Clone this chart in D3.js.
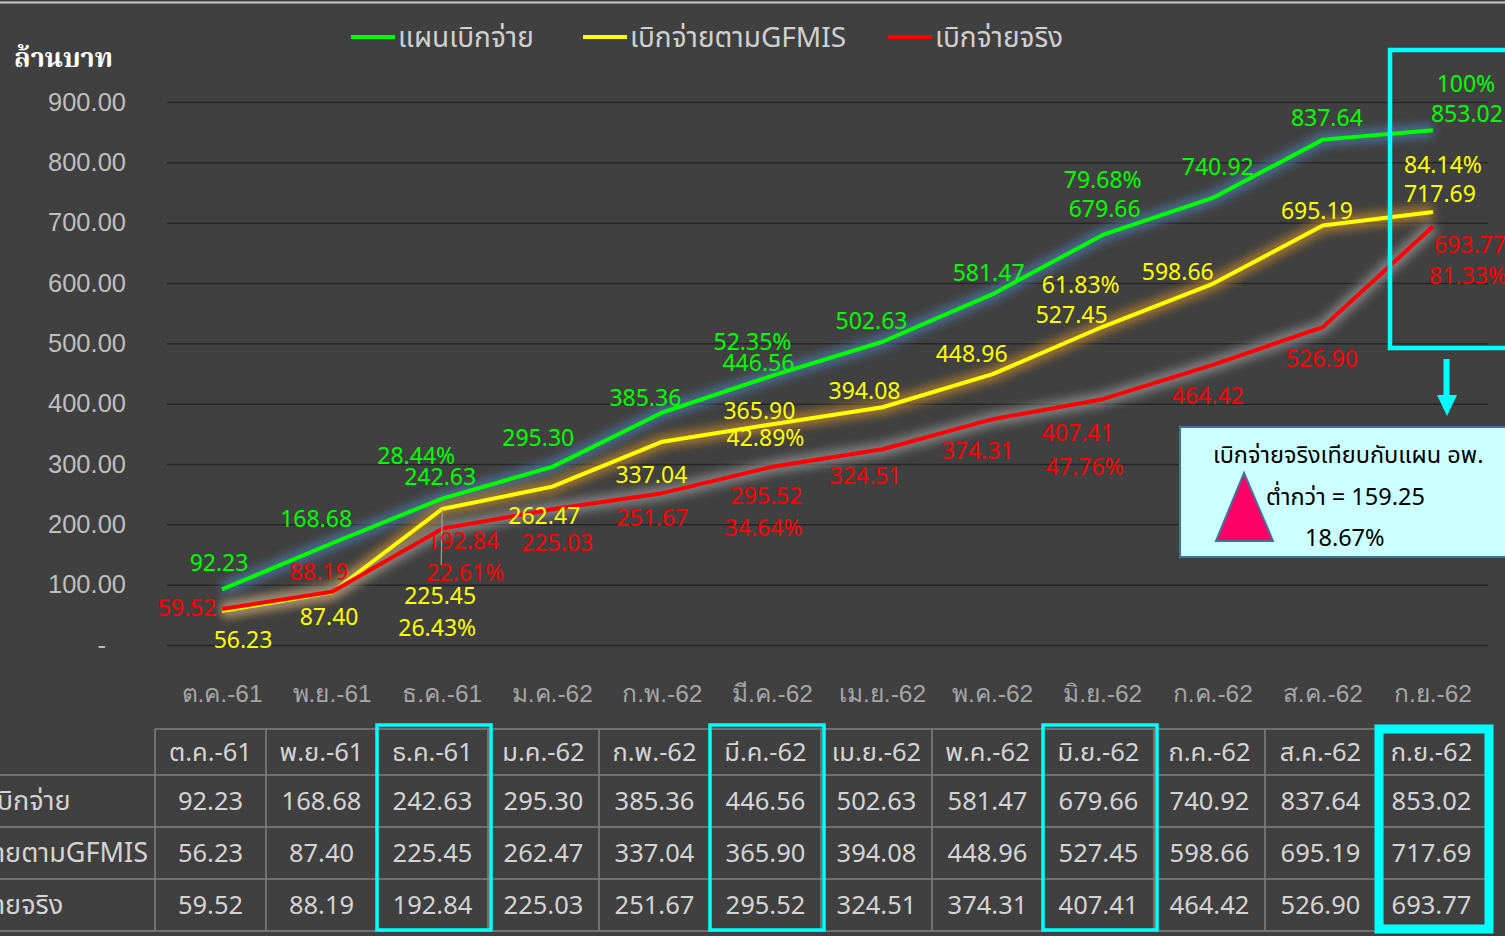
<!DOCTYPE html>
<html lang="th">
<head>
<meta charset="utf-8">
<title>แผนเบิกจ่าย อพ.</title>
<script src="https://cdn.jsdelivr.net/npm/d3@7"></script>
<style>
  html, body { margin: 0; padding: 0; background: #fff; }
  svg { display: block; font-family: Tahoma, "Noto Sans Thai", "Noto Sans", "DejaVu Sans", sans-serif; }
</style>
</head>
<body>
<svg id="chart" width="1505" height="936"></svg>
<script>
/* ---------- data ---------- */
const months = ["ต.ค.-61", "พ.ย.-61", "ธ.ค.-61", "ม.ค.-62", "ก.พ.-62", "มี.ค.-62",
  "เม.ย.-62", "พ.ค.-62", "มิ.ย.-62", "ก.ค.-62", "ส.ค.-62", "ก.ย.-62"];
const planValues   = [92.23, 168.68, 242.63, 295.30, 385.36, 446.56, 502.63, 581.47, 679.66, 740.92, 837.64, 853.02];
const gfmisValues  = [56.23, 87.40, 225.45, 262.47, 337.04, 365.90, 394.08, 448.96, 527.45, 598.66, 695.19, 717.69];
const actualValues = [59.52, 88.19, 192.84, 225.03, 251.67, 295.52, 324.51, 374.31, 407.41, 464.42, 526.90, 693.77];
const seriesNames  = ["แผนเบิกจ่าย", "เบิกจ่ายตามGFMIS", "เบิกจ่ายจริง"];
const yTicks = [0, 100, 200, 300, 400, 500, 600, 700, 800, 900];

// quarter-end percentage labels (share of full-year plan)
const pctMonths = ["ธ.ค.-61", "มี.ค.-62", "มิ.ย.-62", "ก.ย.-62"];
const planPct   = ["28.44%", "52.35%", "79.68%", "100%"];
const gfmisPct  = ["26.43%", "42.89%", "61.83%", "84.14%"];
const actualPct = ["22.61%", "34.64%", "47.76%", "81.33%"];

// table columns outlined in cyan
const highlightMonths = ["ธ.ค.-61", "มี.ค.-62", "มิ.ย.-62", "ก.ย.-62"];

const noteTitle = "เบิกจ่ายจริงเทียบกับแผน อพ.";
const gapLabel = "ต่ำกว่า";
const gapValue = 159.25;
const gapPct = "18.67%";

/* ---------- layout ---------- */
const W = 1505, H = 936;
const plot = { left: 167, right: 1488, top: 102, bottom: 645 };

const series = [
  { name: seriesNames[0], values: planValues,   pct: planPct,   color: "#00ff00", glow: "#4d7cb0",
    off: [[-3,-26],[-16,-24],[-2,-22],[-14,-29],[-17,-15],[-14,-13],[-11,-21],[-4,-21],[2,-26],[5,-31],[4,-22],[34,-16]],
    pctOff: [[-26,-43],[-20,-34],[0,-55],[33,-46]] },
  { name: seriesNames[1], values: gfmisValues,  pct: gfmisPct,  color: "#ffff00", glow: "#c98a2a",
    off: [[21,29],[-3,25],[-2,87],[-8,29],[-11,33],[-13,-13],[-18,-16],[-21,-20],[-31,-12],[-35,-12],[-6,-15],[7,-18]],
    pctOff: [[-5,119],[-7,14],[-22,-42],[10,-47]] },
  { name: seriesNames[2], values: actualValues, pct: actualPct, color: "#ff0000", glow: "#9a9a9a",
    off: [[-35,-1],[-13,-20],[21,12],[5,34],[-10,25],[-6,29],[-17,27],[-15,32],[-25,34],[-5,31],[-1,32],[37,19]],
    pctOff: [[23,44],[-9,61],[-18,68],[35,50]] }
];

const svg = d3.select("#chart");

// background
svg.append("rect").attr("x", 0).attr("y", 0).attr("width", W).attr("height", H).attr("fill", "#404040");
svg.append("line").attr("x1", 0).attr("x2", W).attr("y1", 2.5).attr("y2", 2.5)
  .attr("stroke", "#c8c8c8").attr("stroke-width", 2);

const defs = svg.append("defs");
const glow = defs.append("filter").attr("id", "glow")
  .attr("x", "-20%").attr("y", "-20%").attr("width", "140%").attr("height", "140%");
glow.append("feGaussianBlur").attr("stdDeviation", 5);

const x = d3.scaleBand().domain(months).range([plot.left, plot.right]);
const cx = m => x(m) + x.bandwidth() / 2;
const y = d3.scaleLinear().domain([0, 900]).range([plot.bottom, plot.top]);

// gridlines + y labels
const yAxis = d3.axisLeft(y).tickValues(yTicks)
  .tickSize(-(plot.right - plot.left)).tickPadding(41)
  .tickFormat(d => d === 0 ? "-" : d3.format(".2f")(d));
const gy = svg.append("g").attr("transform", `translate(${plot.left},0)`).call(yAxis);
gy.select(".domain").remove();
gy.selectAll(".tick line").attr("stroke", "#262626").attr("stroke-width", 1.5);
gy.selectAll(".tick text").attr("fill", "#bfbfbf").attr("font-size", 25.5);
// the zero tick reads as an accounting dash, set in from the right
gy.selectAll(".tick text").filter(d => d === 0).attr("dx", -20);

svg.append("text").attr("x", 14).attr("y", 58).attr("dy", "0.35em")
  .attr("fill", "#ffffff").attr("font-size", 27).attr("font-weight", "bold")
  .attr("font-family", "'Noto Serif Thai', 'DejaVu Serif', serif")
  .text("ล้านบาท");

// x labels
const xAxis = d3.axisBottom(x).tickSize(0).tickPadding(0);
const gx = svg.append("g").attr("transform", `translate(0,${plot.bottom + 48})`).call(xAxis);
gx.select(".domain").remove();
gx.selectAll(".tick text").attr("fill", "#a6a6a6").attr("font-size", 24.5).attr("dy", "0.35em");

// legend
const legendX = [351, 583, 888];
const lg = svg.append("g").selectAll("g").data(series).join("g")
  .attr("transform", (d, i) => `translate(${legendX[i]},37)`);
lg.append("line").attr("x1", 0).attr("x2", 44).attr("stroke", d => d.color).attr("stroke-width", 4);
lg.append("text").attr("x", 47).attr("dy", "0.35em").attr("fill", "#d0d0d0").attr("font-size", 28)
  .text(d => d.name);

// lines with soft glow
const line = d3.line().x((d, i) => cx(months[i])).y(d => y(d));
const gl = svg.append("g");
series.forEach(s => {
  gl.append("path").attr("d", line(s.values)).attr("fill", "none")
    .attr("stroke", s.glow).attr("stroke-width", 14).attr("stroke-opacity", 0.7)
    .attr("stroke-linejoin", "round").attr("filter", "url(#glow)");
});
series.forEach(s => {
  gl.append("path").attr("d", line(s.values)).attr("fill", "none")
    .attr("stroke", s.color).attr("stroke-width", 4).attr("stroke-linejoin", "round");
});

// leader line for the ธ.ค.-61 GFMIS label
svg.append("line")
  .attr("x1", cx("ธ.ค.-61")).attr("x2", cx("ธ.ค.-61") - 1)
  .attr("y1", y(gfmisValues[2])).attr("y2", y(gfmisValues[2]) + 56)
  .attr("stroke", "#a0a0a0").attr("stroke-width", 1.2);

// data labels
const gLab = svg.append("g").attr("font-size", 23).attr("text-anchor", "middle");
series.forEach(s => {
  gLab.selectAll(null).data(s.values).join("text")
    .attr("x", (d, i) => cx(months[i]) + s.off[i][0])
    .attr("y", (d, i) => y(d) + s.off[i][1])
    .attr("dy", "0.35em").attr("fill", s.color)
    .text(d => d3.format(".2f")(d));
  gLab.selectAll(null).data(s.pct).join("text")
    .attr("x", (d, i) => cx(pctMonths[i]) + s.pctOff[i][0])
    .attr("y", (d, i) => y(s.values[months.indexOf(pctMonths[i])]) + s.pctOff[i][1])
    .attr("dy", "0.35em").attr("fill", s.color)
    .text(d => d);
});

// cyan frame around last month + arrow
svg.append("rect").attr("x", 1390).attr("y", 50).attr("width", 140).attr("height", 298)
  .attr("fill", "none").attr("stroke", "#00ffff").attr("stroke-width", 4.5);
svg.append("line").attr("x1", 1446.5).attr("x2", 1446.5).attr("y1", 359).attr("y2", 398)
  .attr("stroke", "#00ffff").attr("stroke-width", 6);
svg.append("path").attr("d", "M1437,395 L1457,395 L1447,416 Z").attr("fill", "#00ffff");

// note box
const note = svg.append("g");
note.append("rect").attr("x", 1180).attr("y", 427).attr("width", 340).attr("height", 130)
  .attr("fill", "#ccffff").attr("stroke", "#41719c").attr("stroke-width", 2);
note.append("path").attr("d", "M1244,473 L1273,541 L1216,541 Z")
  .attr("fill", "#ff0066").attr("stroke", "#41719c").attr("stroke-width", 2);
note.append("text").attr("x", 1213).attr("y", 455).attr("dy", "0.35em")
  .attr("font-size", 23.5).attr("fill", "#000").text(noteTitle);
note.append("text").attr("x", 1266).attr("y", 497).attr("dy", "0.35em")
  .attr("font-size", 23.5).attr("fill", "#000").text(`${gapLabel} = ${d3.format(".2f")(gapValue)}`);
note.append("text").attr("x", 1305).attr("y", 538).attr("dy", "0.35em")
  .attr("font-size", 23.5).attr("fill", "#000").text(gapPct);

/* ---------- data table ---------- */
const tbl = { left: 155, colW: 111, top: 729, rowH: [46, 52, 52, 52] };
const rowY = [tbl.top];
tbl.rowH.forEach(h => rowY.push(rowY[rowY.length - 1] + h));
const tRight = tbl.left + tbl.colW * months.length;
const tg = svg.append("g");
const gridCol = "#808080";

tg.append("line").attr("x1", tbl.left).attr("x2", tRight).attr("y1", rowY[0]).attr("y2", rowY[0])
  .attr("stroke", gridCol).attr("stroke-width", 1.5);
rowY.slice(1).forEach(yy => {
  tg.append("line").attr("x1", 0).attr("x2", tRight).attr("y1", yy).attr("y2", yy)
    .attr("stroke", gridCol).attr("stroke-width", 1.5);
});
d3.range(months.length + 1).forEach(i => {
  tg.append("line").attr("x1", tbl.left + i * tbl.colW).attr("x2", tbl.left + i * tbl.colW)
    .attr("y1", rowY[0]).attr("y2", rowY[4]).attr("stroke", gridCol).attr("stroke-width", 1.5);
});

const cellText = tg.append("g").attr("font-size", 25.5).attr("fill", "#d4d4d4").attr("text-anchor", "middle");
cellText.selectAll(".hdr").data(months).join("text").attr("class", "hdr")
  .attr("x", (d, i) => tbl.left + (i + 0.5) * tbl.colW)
  .attr("y", (rowY[0] + rowY[1]) / 2).attr("dy", "0.35em").text(d => d);
series.forEach((s, r) => {
  cellText.selectAll(null).data(s.values).join("text")
    .attr("x", (d, i) => tbl.left + (i + 0.5) * tbl.colW)
    .attr("y", (rowY[r + 1] + rowY[r + 2]) / 2).attr("dy", "0.35em")
    .text(d => d3.format(".2f")(d));
});

// row labels, left-aligned and clipped by the page edge
const rowLab = tg.append("g").attr("font-size", 27).attr("fill", "#d4d4d4");
const rl = rowLab.selectAll("text").data(seriesNames).join("text")
  .attr("y", (d, i) => (rowY[i + 1] + rowY[i + 2]) / 2).attr("dy", "0.35em").text(d => d);
const maxW = d3.max(rl.nodes(), n => n.getComputedTextLength());
rl.attr("x", 148 - maxW);

// cyan column highlights
highlightMonths.forEach((m, i) => {
  const k = months.indexOf(m);
  const last = i === highlightMonths.length - 1;
  const sw = last ? 9 : 3.5;
  tg.append("rect")
    .attr("x", tbl.left + k * tbl.colW + (last ? 3 : 0))
    .attr("y", last ? 729 : 725)
    .attr("width", tbl.colW + (last ? -1 : 3))
    .attr("height", last ? 200 : 205)
    .attr("fill", "none").attr("stroke", "#00ffff").attr("stroke-width", sw);
});
</script>
</body>
</html>
